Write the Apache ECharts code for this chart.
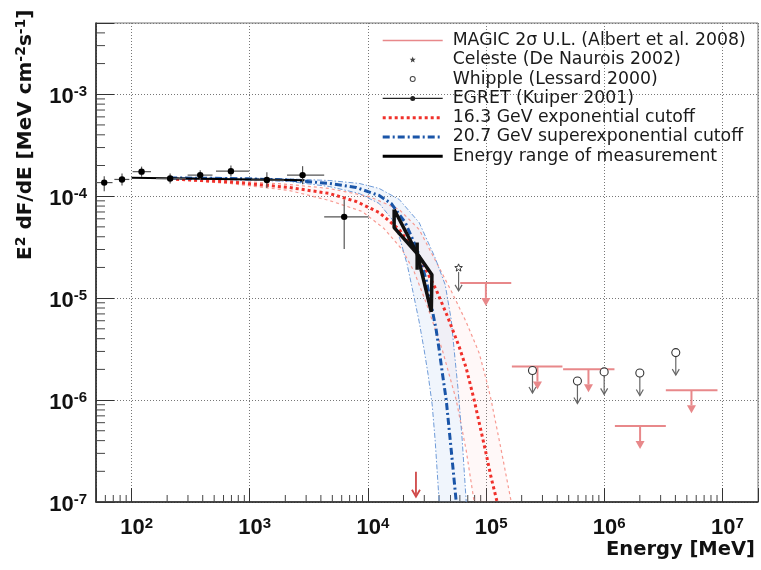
<!DOCTYPE html>
<html>
<head>
<meta charset="utf-8">
<script src="https://cdn.jsdelivr.net/npm/echarts@6/dist/echarts.min.js"></script>
<style>html,body{margin:0;padding:0;background:#fff}#c{width:761px;height:570px}</style>
</head>
<body>
<div id="c"></div>
<script>
// ---------------- axis ranges / ticks ----------------
const xRange = [50, 2e7];
const yRange = [1e-7, 5e-3];
const minorMultipliers = [2, 3, 4, 5, 6, 7, 8, 9];
const xDecades = [1, 2, 3, 4, 5, 6, 7];
const yDecades = [-7, -6, -5, -4, -3];

// ---------------- EGRET (Kuiper 2001) ----------------
const egretE   = [58.7, 83, 121.5, 212, 381, 693, 1396, 2800, 6300];
const egretF   = [1.36e-4, 1.46e-4, 1.74e-4, 1.49e-4, 1.61e-4, 1.76e-4, 1.44e-4, 1.61e-4, 6.27e-5];
const egretElo = [50, 71.5, 102, 161, 298, 518, 1023, 2066, 4265];
const egretEhi = [69, 95.7, 146, 288, 484, 990, 1959, 4265, 10120];
const egretFlo = [1.12e-4, 1.27e-4, 1.55e-4, 1.33e-4, 1.44e-4, 1.56e-4, 1.20e-4, 1.31e-4, 3.04e-5];
const egretFhi = [1.57e-4, 1.67e-4, 1.95e-4, 1.67e-4, 1.80e-4, 2.00e-4, 1.72e-4, 1.97e-4, 9.3e-5];

// EGRET power-law range line
const egretLineE = [100, 2900];
const egretLineF = [1.52e-4, 1.43e-4];

// ---------------- MAGIC 2 sigma upper limits ----------------
const magicElo = [60400, 165300, 448500, 1.23e6, 3.32e6];
const magicEhi = [163300, 442600, 1.22e6, 3.32e6, 9.08e6];
const magicEc  = [99600, 272000, 735000, 2.01e6, 5.47e6];
const magicUL  = [1.41e-5, 2.13e-6, 2.01e-6, 5.56e-7, 1.25e-6];

// single red arrow near the axis
const redArrowE = [25500];
const redArrowF = [1.98e-7];

// ---------------- Celeste / Whipple ----------------
const celesteE = [58500];
const celesteF = [1.98e-5];
const whippleE = [247000, 593000, 998000, 2.0e6, 4.03e6];
const whippleF = [1.95e-6, 1.54e-6, 1.89e-6, 1.84e-6, 2.92e-6];

// ---------------- 16.3 GeV exponential cutoff ----------------
const expE   = [212, 671, 2160, 4700, 7960, 12450, 18400, 27150, 37800, 46900, 59200, 67800, 79300, 89100, 99800, 110200, 124000];
const expF   = [1.476e-4, 1.380e-4, 1.218e-4, 1.064e-4, 8.87e-5, 6.92e-5, 4.71e-5, 2.55e-5, 1.21e-5, 6.71e-6, 3.33e-6, 2.07e-6, 1.00e-6, 5.43e-7, 3.02e-7, 1.75e-7, 1.0e-7];
const expLoE = [212, 671, 2160, 4700, 8950, 13700, 19500, 24600, 31100, 42600, 55900, 67800, 79300];
const expLoF = [1.459e-4, 1.334e-4, 1.138e-4, 9.08e-5, 7.08e-5, 4.81e-5, 2.99e-5, 1.82e-5, 9.02e-6, 3.11e-6, 1.0e-6, 3.23e-7, 1.0e-7];
const expHiE = [212, 671, 2160, 4700, 10240, 18400, 27150, 40100, 51600, 67800, 87300, 102100, 110400, 134300, 163300];
const expHiF = [1.493e-4, 1.426e-4, 1.303e-4, 1.191e-4, 9.93e-5, 7.40e-5, 4.71e-5, 1.99e-5, 1.13e-5, 5.85e-6, 2.90e-6, 1.47e-6, 1.0e-6, 3.23e-7, 1.0e-7];

// ---------------- 20.7 GeV superexponential cutoff ----------------
const supE   = [212, 671, 2160, 4700, 7960, 12450, 15740, 20700, 26100, 31100, 35000, 37800, 40100, 42500, 46000, 50700, 55900];
const supF   = [1.510e-4, 1.493e-4, 1.443e-4, 1.334e-4, 1.218e-4, 1.016e-4, 8.48e-5, 5.51e-5, 2.99e-5, 1.52e-5, 7.69e-6, 4.89e-6, 3.11e-6, 1.89e-6, 1.0e-6, 3.23e-7, 1.0e-7];
const supLoE = [212, 671, 2160, 4700, 8430, 12450, 16080, 18750, 21500, 24150, 27150, 29900, 32340, 35000, 37050, 40100];
const supLoF = [1.493e-4, 1.459e-4, 1.396e-4, 1.245e-4, 1.064e-4, 8.48e-5, 5.90e-5, 3.75e-5, 2.13e-5, 1.13e-5, 5.85e-6, 3.11e-6, 1.77e-6, 8.95e-7, 4.05e-7, 1.0e-7];
const supHiE = [212, 671, 2160, 4700, 8430, 12450, 18400, 27150, 37050, 45100, 50700, 54700, 58000, 62800, 67900];
const supHiF = [1.528e-4, 1.510e-4, 1.476e-4, 1.426e-4, 1.334e-4, 1.191e-4, 9.29e-5, 5.51e-5, 2.49e-5, 1.35e-5, 6.14e-6, 2.48e-6, 1.26e-6, 4.05e-7, 1.0e-7];

// ---------------- Energy range of measurement (bowtie) ----------------
const bowtieE = [16670, 26100, 34400, 34800, 26100, 16670, 16670];
const bowtieF = [7.40e-5, 2.74e-5, 7.35e-6, 1.70e-5, 2.74e-5, 4.92e-5, 7.40e-5];
const pivotE  = [26100, 26100];
const pivotF  = [3.51e-5, 1.90e-5];

// ---------------- names ----------------
const names = {
  magic: 'MAGIC 2σ U.L. (Albert et al. 2008)',
  celeste: 'Celeste (De Naurois 2002)',
  whipple: 'Whipple (Lessard 2000)',
  egret: 'EGRET (Kuiper 2001)',
  exp: '16.3 GeV exponential cutoff',
  sup: '20.7 GeV superexponential cutoff',
  range: 'Energy range of measurement'
};

// ---------------- styles ----------------
const C = {
  magic: '#e8888a', redArrow: '#d04848', gray: '#555', black: '#111',
  red: '#f0302a', redEdge: '#f79a92', blue: '#1a55a8', blueEdge: '#6f9bd8',
  redFill: 'rgba(250,170,165,0.08)', blueFill: 'rgba(150,185,235,0.14)'
};

const pairs = (a, b) => a.map((v, i) => [v, b[i]]);

const minorX = [];
xDecades.forEach(d => minorMultipliers.forEach(m => { const v = m * Math.pow(10, d); if (v > xRange[0] && v < xRange[1]) minorX.push(v); }));
const minorY = [];
yDecades.forEach(d => minorMultipliers.forEach(m => { const v = m * Math.pow(10, d); if (v > yRange[0] && v < yRange[1]) minorY.push(v); }));

function powLabel(v) {
  const e = Math.round(Math.log10(v));
  if (Math.abs(v / Math.pow(10, e) - 1) > 1e-6) return '';
  return '{b|10}{s|' + e + '}';
}
const labelRich = {
  b: { fontFamily: 'Liberation Sans', fontWeight: 'bold', fontSize: 22, lineHeight: 24, color: '#111' },
  s: { fontFamily: 'Liberation Sans', fontWeight: 'bold', fontSize: 15, lineHeight: 16, verticalAlign: 'top', color: '#111' }
};

// legend icons (65 x 14 box, content 0..60)
const anchor = 'M0,0L0.01,0.01Z M65,14L64.99,13.99Z ';
function circlePath(cx, cy, r, cw) {
  const s = cw ? 1 : 0;
  return `M${cx - r},${cy} A${r},${r} 0 1 ${s} ${cx + r},${cy} A${r},${r} 0 1 ${s} ${cx - r},${cy} Z `;
}
function starPath(cx, cy, ro, ri) {
  let p = '';
  for (let k = 0; k < 10; k++) {
    const a = -Math.PI / 2 + k * Math.PI / 5;
    const r = k % 2 ? ri : ro;
    p += (k ? 'L' : 'M') + (cx + r * Math.cos(a)).toFixed(2) + ',' + (cy + r * Math.sin(a)).toFixed(2) + ' ';
  }
  return p + 'Z ';
}
function dashPath(pattern, h) {
  let p = '', x = 0, on = true, k = 0;
  while (x < 60) {
    const w = pattern[k % pattern.length];
    if (on) p += `M${x},${7 - h / 2}H${Math.min(60, x + w)}V${7 + h / 2}H${x}Z `;
    x += w; on = !on; k++;
  }
  return p;
}
const icons = {
  magic: 'path://' + anchor + 'M0,6.2H60V7.8H0Z',
  celeste: 'path://' + anchor + starPath(30, 7, 3.2, 1.4),
  whipple: 'path://' + anchor + circlePath(30, 7, 3, true) + circlePath(30, 7, 2, false),
  egret: 'path://' + anchor + 'M0,6.4H60V7.6H0Z ' + circlePath(30, 7, 2.5, true),
  exp: 'path://' + anchor + dashPath([3, 3], 3),
  sup: 'path://' + anchor + dashPath([7, 3, 2, 3], 3),
  range: 'path://' + anchor + 'M0,5.5H60V8.5H0Z'
};

function lineSeries(name, E, F, color, width, type, z, extra) {
  return Object.assign({
    name, type: 'line', data: pairs(E, F), symbol: 'none', showSymbol: false, z,
    lineStyle: { color, width, type }, itemStyle: { color }, silent: true
  }, extra || {});
}
function bandSeries(name, loE, loF, hiE, hiF, fill, z) {
  return {
    name, type: 'custom', z, silent: true, data: [[hiE[0], hiF[0]]],
    renderItem: (params, api) => {
      const pts = [];
      hiE.forEach((e, i) => pts.push(api.coord([e, hiF[i]])));
      for (let i = loE.length - 1; i >= 0; i--) pts.push(api.coord([loE[i], loF[i]]));
      return { type: 'polygon', shape: { points: pts }, style: { fill, stroke: null } };
    }
  };
}

const chart = echarts.init(document.getElementById('c'), null, { renderer: 'canvas' });
const option = {
  animation: false,
  backgroundColor: '#fff',
  grid: { left: 96, right: 2, top: 23, bottom: 68, show: true, borderColor: '#777', borderWidth: 1, backgroundColor: 'transparent' },
  legend: {
    orient: 'vertical', left: 382.7, top: 32, itemWidth: 65, itemHeight: 14, itemGap: 2.3, padding: 0,
    selectedMode: false,
    textStyle: { fontFamily: 'DejaVu Sans', fontSize: 17.3, color: '#1a1a1a', lineHeight: 14 },
    data: [
      { name: names.magic, icon: icons.magic, itemStyle: { color: C.magic, borderWidth: 0 } },
      { name: names.celeste, icon: icons.celeste, itemStyle: { color: '#444', borderWidth: 0 } },
      { name: names.whipple, icon: icons.whipple, itemStyle: { color: '#444', borderWidth: 0 } },
      { name: names.egret, icon: icons.egret, itemStyle: { color: '#222', borderWidth: 0 } },
      { name: names.exp, icon: icons.exp, itemStyle: { color: C.red, borderWidth: 0 } },
      { name: names.sup, icon: icons.sup, itemStyle: { color: C.blue, borderWidth: 0 } },
      { name: names.range, icon: icons.range, itemStyle: { color: '#000', borderWidth: 0 } }
    ]
  },
  xAxis: {
    type: 'log', logBase: 10, min: xRange[0], max: xRange[1],
    name: 'Energy [MeV]', nameLocation: 'end', nameGap: -3, nameMoveOverlap: false,
    nameTextStyle: { fontFamily: 'DejaVu Sans', fontWeight: 'bold', fontSize: 19.5, color: '#111', align: 'right', verticalAlign: 'top', padding: [38, 0, 0, 0] },
    axisLine: { show: true, lineStyle: { color: '#222', width: 1.5 } },
    axisTick: { show: true, inside: true, length: 14, lineStyle: { color: '#333', width: 1 } },
    minorTick: { show: false },
    splitLine: { show: true, lineStyle: { color: '#777', width: 1, type: [1, 2] } },
    axisLabel: { margin: 14, formatter: powLabel, rich: labelRich, padding: [0, 0, 0, 10] }
  },
  yAxis: {
    type: 'log', logBase: 10, min: yRange[0], max: yRange[1],
    name: '{b|E}{s|2}{b| dF/dE [MeV cm}{s|-2}{b|s}{s|-1}{b|]}',
    nameLocation: 'end', nameRotate: 90, nameGap: 13.5, nameMoveOverlap: false,
    nameTextStyle: {
      align: 'right', verticalAlign: 'bottom', padding: [0, 0, 58, 0],
      rich: {
        b: { fontFamily: 'DejaVu Sans', fontWeight: 'bold', fontSize: 20, lineHeight: 24, color: '#111' },
        s: { fontFamily: 'DejaVu Sans', fontWeight: 'bold', fontSize: 14, lineHeight: 14, verticalAlign: 'top', color: '#111' }
      }
    },
    axisLine: { show: true, lineStyle: { color: '#222', width: 1.5 } },
    axisTick: { show: true, inside: true, length: 18, lineStyle: { color: '#333', width: 1 } },
    splitLine: { show: true, lineStyle: { color: '#777', width: 1, type: [1, 2] } },
    axisLabel: { margin: 9, formatter: powLabel, rich: labelRich, padding: [5, 0, 0, 0] }
  },
  series: [
    // minor ticks
    { name: 'xminor', type: 'custom', silent: true, z: 1, data: minorX.map(v => [v, yRange[0]]),
      renderItem: (p, api) => { const c = api.coord([api.value(0), api.value(1)]);
        return { type: 'line', shape: { x1: c[0], y1: c[1], x2: c[0], y2: c[1] - 7 }, style: { stroke: '#444', lineWidth: 1 } }; } },
    { name: 'yminor', type: 'custom', silent: true, z: 1, data: minorY.map(v => [xRange[0], v]),
      renderItem: (p, api) => { const c = api.coord([api.value(0), api.value(1)]);
        return { type: 'line', shape: { x1: c[0], y1: c[1], x2: c[0] + 9, y2: c[1] }, style: { stroke: '#444', lineWidth: 1 } }; } },
    // bands
    bandSeries('expBand', expLoE, expLoF, expHiE, expHiF, C.redFill, 2),
    bandSeries('supBand', supLoE, supLoF, supHiE, supHiF, C.blueFill, 2),
    lineSeries('expLo', expLoE, expLoF, C.redEdge, 1.2, [3, 3], 3),
    lineSeries('expHi', expHiE, expHiF, C.redEdge, 1.2, [3, 3], 3),
    lineSeries('supLo', supLoE, supLoF, C.blueEdge, 1, [5, 2, 1.5, 2], 3),
    lineSeries('supHi', supHiE, supHiF, C.blueEdge, 1, [5, 2, 1.5, 2], 3),
    lineSeries(names.exp, expE, expF, C.red, 3, [3, 3], 4),
    lineSeries(names.sup, supE, supF, C.blue, 3, [7, 3, 2, 3], 4),
    lineSeries('egretLine', egretLineE, egretLineF, '#000', 2, 'solid', 4),
    lineSeries(names.range, bowtieE, bowtieF, '#111', 3.5, 'solid', 5),
    lineSeries('pivot', pivotE, pivotF, '#111', 3.5, 'solid', 5),
    // EGRET
    { name: names.egret, type: 'custom', z: 6, silent: true, itemStyle: { color: '#222' },
      data: egretE.map((e, i) => [e, egretF[i], egretElo[i], egretEhi[i], egretFlo[i], egretFhi[i]]),
      encode: { x: 0, y: 1 },
      renderItem: (p, api) => {
        const c = api.coord([api.value(0), api.value(1)]);
        const xl = api.coord([api.value(2), api.value(1)]);
        const xh = api.coord([api.value(3), api.value(1)]);
        const yl = api.coord([api.value(0), api.value(4)]);
        const yh = api.coord([api.value(0), api.value(5)]);
        const st = { stroke: '#555', lineWidth: 1.2 };
        return { type: 'group', children: [
          { type: 'line', shape: { x1: xl[0], y1: c[1], x2: xh[0], y2: c[1] }, style: st },
          { type: 'line', shape: { x1: c[0], y1: yl[1], x2: c[0], y2: yh[1] }, style: st },
          { type: 'circle', shape: { cx: c[0], cy: c[1], r: 3.2 }, style: { fill: '#000' } }
        ] };
      } },
    // MAGIC upper limits
    { name: names.magic, type: 'custom', z: 6, silent: true, itemStyle: { color: C.magic },
      data: magicElo.map((e, i) => [e, magicEhi[i], magicEc[i], magicUL[i]]),
      encode: { x: 2, y: 3 },
      renderItem: (p, api) => {
        const lo = api.coord([api.value(0), api.value(3)]);
        const hi = api.coord([api.value(1), api.value(3)]);
        const c = api.coord([api.value(2), api.value(3)]);
        const L = 23, hw = 4.5, hh = 8;
        return { type: 'group', children: [
          { type: 'line', shape: { x1: lo[0], y1: lo[1], x2: hi[0], y2: hi[1] }, style: { stroke: C.magic, lineWidth: 2 } },
          { type: 'line', shape: { x1: c[0], y1: c[1], x2: c[0], y2: c[1] + L - hh }, style: { stroke: C.magic, lineWidth: 2 } },
          { type: 'polygon', shape: { points: [[c[0] - hw, c[1] + L - hh], [c[0] + hw, c[1] + L - hh], [c[0], c[1] + L]] }, style: { fill: C.magic } }
        ] };
      } },
    // red arrow
    { name: 'redArrow', type: 'custom', z: 6, silent: true,
      data: pairs(redArrowE, redArrowF),
      renderItem: (p, api) => {
        const c = api.coord([api.value(0), api.value(1)]);
        const L = 25;
        return { type: 'group', children: [
          { type: 'line', shape: { x1: c[0], y1: c[1], x2: c[0], y2: c[1] + L - 2 }, style: { stroke: C.redArrow, lineWidth: 1.8 } },
          { type: 'polyline', shape: { points: [[c[0] - 4, c[1] + L - 7], [c[0], c[1] + L], [c[0] + 4, c[1] + L - 7]] }, style: { stroke: C.redArrow, lineWidth: 1.8, fill: null } }
        ] };
      } },
    // Celeste
    { name: names.celeste, type: 'custom', z: 6, silent: true, itemStyle: { color: '#444' },
      data: pairs(celesteE, celesteF),
      renderItem: (p, api) => {
        const c = api.coord([api.value(0), api.value(1)]);
        const pts = [];
        for (let k = 0; k < 10; k++) { const a = -Math.PI / 2 + k * Math.PI / 5; const r = k % 2 ? 1.7 : 4; pts.push([c[0] + r * Math.cos(a), c[1] + r * Math.sin(a)]); }
        const L = 23;
        return { type: 'group', children: [
          { type: 'polygon', shape: { points: pts }, style: { fill: '#fff', stroke: '#333', lineWidth: 1 } },
          { type: 'line', shape: { x1: c[0], y1: c[1] + 4, x2: c[0], y2: c[1] + L }, style: { stroke: '#666', lineWidth: 1.2 } },
          { type: 'polyline', shape: { points: [[c[0] - 3.5, c[1] + L - 6], [c[0], c[1] + L], [c[0] + 3.5, c[1] + L - 6]] }, style: { stroke: '#666', lineWidth: 1.2, fill: null } }
        ] };
      } },
    // Whipple
    { name: names.whipple, type: 'custom', z: 6, silent: true, itemStyle: { color: '#444' },
      data: pairs(whippleE, whippleF),
      renderItem: (p, api) => {
        const c = api.coord([api.value(0), api.value(1)]);
        const L = 22.5, r = 4;
        return { type: 'group', children: [
          { type: 'line', shape: { x1: c[0], y1: c[1] + r, x2: c[0], y2: c[1] + L }, style: { stroke: '#666', lineWidth: 1.2 } },
          { type: 'polyline', shape: { points: [[c[0] - 3.5, c[1] + L - 6], [c[0], c[1] + L], [c[0] + 3.5, c[1] + L - 6]] }, style: { stroke: '#666', lineWidth: 1.2, fill: null } },
          { type: 'circle', shape: { cx: c[0], cy: c[1], r }, style: { fill: '#fff', stroke: '#333', lineWidth: 1.1 } }
        ] };
      } }
  ]
};
chart.setOption(option);
</script>
</body>
</html>
